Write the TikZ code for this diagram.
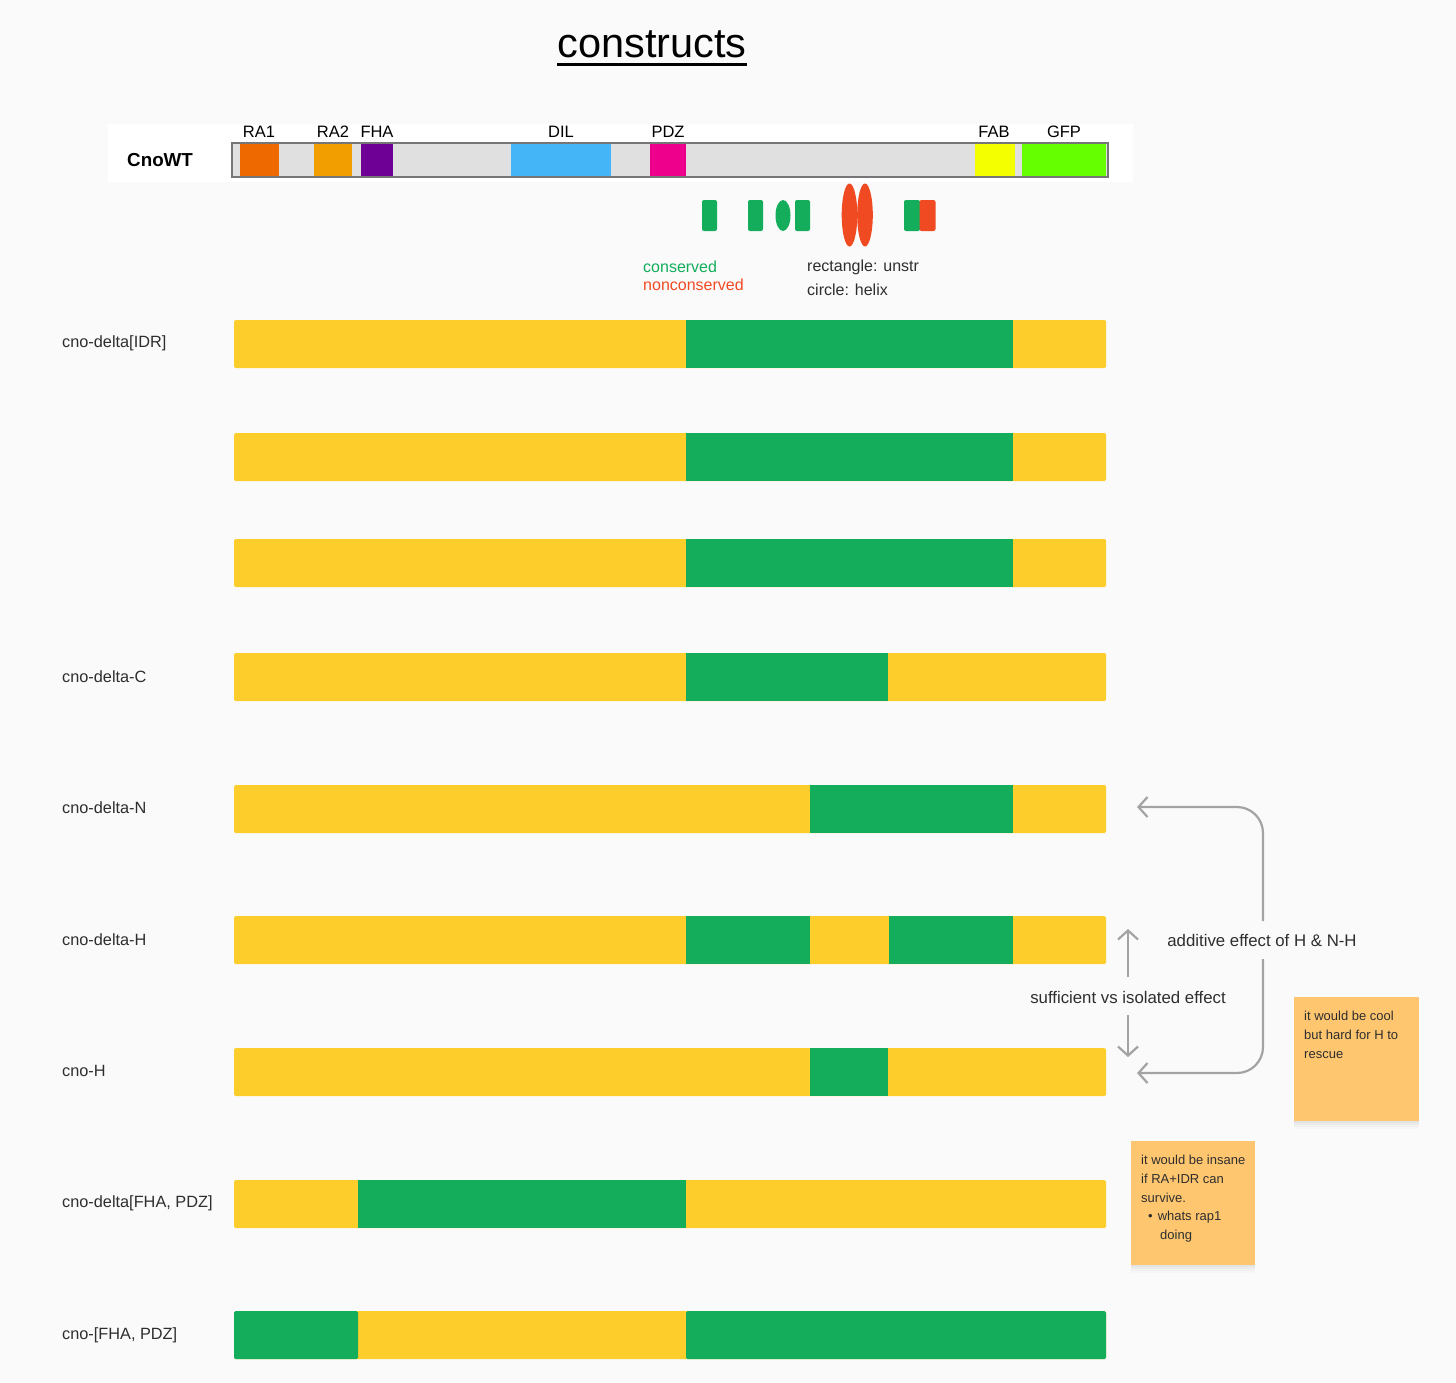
\documentclass[tikz,border=0pt]{standalone}
\usepackage{fontspec}
\setmainfont{Liberation Sans}
\usetikzlibrary{arrows.meta}
\definecolor{bgc}{HTML}{FAFAFA}
\definecolor{ybar}{HTML}{FDCD2B}
\definecolor{gbar}{HTML}{13AD5B}
\definecolor{rdc}{HTML}{F04A23}
\definecolor{notec}{HTML}{FFC670}
\definecolor{arrc}{HTML}{A3A3A3}
\definecolor{txt}{HTML}{2E2E2E}
\definecolor{wtgray}{HTML}{E0E0E0}
\definecolor{wtborder}{HTML}{767676}
\definecolor{cRAone}{HTML}{EE6A00}
\definecolor{cRAtwo}{HTML}{F29D00}
\definecolor{cFHA}{HTML}{6E0096}
\definecolor{cDIL}{HTML}{44B6F8}
\definecolor{cPDZ}{HTML}{EE008C}
\definecolor{cFAB}{HTML}{F4FF00}
\definecolor{cGFP}{HTML}{66FF00}
\tikzset{
  fsz/.style={font=\fontsize{#1}{#1}\selectfont},
  rowlbl/.style={anchor=west, inner sep=0, text=txt, fsz=16.3},
  domlbl/.style={anchor=center, inner sep=0, text=black, fsz=16.5},
  ybarbox/.style={fill=ybar, rounded corners=1.5pt, draw=none, inner sep=0, outer sep=0,
                  minimum width=872pt, minimum height=48pt, anchor=north west},
  gseg/.style={fill=gbar},
  conn/.style={draw=arrc, line width=2.2pt, -{Straight Barb[length=9pt,width=20pt]}},
  notebox/.style={fill=notec, draw=none, inner sep=0, minimum width=125pt, minimum height=124pt, anchor=north west},
  notetxt/.style={anchor=north west, inner sep=0, align=left, text=txt, font=\fontsize{13}{18.7}\selectfont},
  annot/.style={inner sep=0, text=txt, fsz=16.8},
  legtxt/.style={anchor=west, inner sep=0, fsz=16},
}
\begin{document}
\begin{tikzpicture}[x=1pt,y=-1pt]
\useasboundingbox (0,0) rectangle (1456,1382);
\fill[bgc] (0,0) rectangle (1456,1382);

% title
\node[anchor=base, inner sep=0, fsz=41.5, text=black] (title) at (652,57) {constructs};
\draw[line width=2.4pt] ([yshift=-7pt]title.south west) -- ([yshift=-7pt]title.south east);

% CnoWT
\fill[white] (108,124) rectangle (1133,182);
\node[anchor=west, inner sep=0, font=\bfseries\fontsize{18.8}{18.8}\selectfont] (cnowt) at (127,160) {CnoWT};
\fill[wtgray] (232,143) rectangle (1108,177);
\fill[cRAone] (240,144) rectangle (279,176);
\fill[cRAtwo] (314,144) rectangle (352,176);
\fill[cFHA] (361,144) rectangle (393,176);
\fill[cDIL] (511,144) rectangle (611,176);
\fill[cPDZ] (650,144) rectangle (686,176);
\fill[cFAB] (975,144) rectangle (1015,176);
\fill[cGFP] (1022,144) rectangle (1106,176);
\draw[wtborder, line width=2pt] (232,143) rectangle (1108,177);
\node[domlbl] (lra1) at (259,132) {RA1};
\node[domlbl] (lra2) at (333,132) {RA2};
\node[domlbl] (lfha) at (377,132) {FHA};
\node[domlbl] (ldil) at (561,132) {DIL};
\node[domlbl] (lpdz) at (668,132) {PDZ};
\node[domlbl] (lfab) at (994,132) {FAB};
\node[domlbl] (lgfp) at (1064,132) {GFP};

% legend shapes
\fill[gbar, rounded corners=2pt] (702,200) rectangle (717,231);
\fill[gbar, rounded corners=2pt] (748,200) rectangle (763,231);
\fill[gbar] (783,215.5) ellipse [x radius=7.5pt, y radius=15.5pt];
\fill[gbar, rounded corners=2pt] (795,200) rectangle (810,231);
\fill[rdc] (849.5,215) ellipse [x radius=7.8pt, y radius=31.5pt];
\fill[rdc] (865,215) ellipse [x radius=7.8pt, y radius=31.5pt];
\fill[gbar, rounded corners=2pt] (904,200) rectangle (920,231);
\fill[rdc, rounded corners=2pt] (919.5,200) rectangle (935.5,231);
\node[legtxt, text=gbar] (lcons) at (643,267) {conserved};
\node[legtxt, text=rdc] (lnoncons) at (643,284.5) {nonconserved};
\node[legtxt, text=txt] (lrect) at (807,267) {rectangle: unstr};
\node[legtxt, text=txt] (lcirc) at (807,290) {circle: helix};

% rows
\node[ybarbox] (b1) at (234,320) {};
\fill[gseg] (686,320) rectangle (1013,368);
\node[rowlbl] (l1) at (62,343) {cno-delta[IDR]};

\node[ybarbox] (b2) at (234,433) {};
\fill[gseg] (686,433) rectangle (1013,481);

\node[ybarbox] (b3) at (234,539) {};
\fill[gseg] (686,539) rectangle (1013,587);

\node[ybarbox] (b4) at (234,653) {};
\fill[gseg] (686,653) rectangle (888,701);
\node[rowlbl] (l4) at (62,677) {cno-delta-C};

\node[ybarbox] (b5) at (234,785) {};
\fill[gseg] (810,785) rectangle (1013,833);
\node[rowlbl] (l5) at (62,808) {cno-delta-N};

\node[ybarbox] (b6) at (234,916) {};
\fill[gseg] (686,916) rectangle (810,964);
\fill[gseg] (889,916) rectangle (1013,964);
\node[rowlbl] (l6) at (62,940) {cno-delta-H};

\node[ybarbox] (b7) at (234,1048) {};
\fill[gseg] (810,1048) rectangle (888,1096);
\node[rowlbl] (l7) at (62,1071) {cno-H};

\node[ybarbox] (b8) at (234,1180) {};
\fill[gseg] (358,1180) rectangle (686,1228);
\node[rowlbl] (l8) at (62,1203) {cno-delta[FHA, PDZ]};

\node[ybarbox] (b9) at (234,1311) {};
\fill[gseg, rounded corners=1.5pt] (234,1311) rectangle (358,1359);
\fill[gseg, rounded corners=1.5pt] (686,1311) rectangle (1106,1359);
\node[rowlbl] (l9) at (62,1335) {cno-[FHA, PDZ]};

% annotations
\node[annot] (addtxt) at (1262,940) {additive effect of H \& N-H};
\coordinate (topstart) at (1263,921);
\coordinate (toptip) at (1137,807);
\coordinate (botstart) at (1263,959);
\coordinate (bottip) at (1137,1073);
\draw[conn, rounded corners=26pt] (topstart) |- (toptip);
\draw[conn, rounded corners=26pt] (botstart) |- (bottip);

\node[annot] (suftxt) at (1128,997) {sufficient vs isolated effect};
\coordinate (upstart) at (1128,977);
\coordinate (uptip) at (1128,929);
\coordinate (downstart) at (1128,1015);
\coordinate (downtip) at (1128,1057);
\draw[conn] (upstart) -- (uptip);
\draw[conn] (downstart) -- (downtip);

% sticky notes with soft shadow
\foreach \d/\o in {8/0.015,6/0.02,4/0.025,2/0.03}{
  \fill[black, opacity=\o] (1294,997+\d) rectangle (1419,1121+\d);
  \fill[black, opacity=\o] (1131,1141+\d) rectangle (1255,1265+\d);
}
\node[notebox] (note1) at (1294,997) {};
\node[notetxt] (note1t) at (1304,1011) {it would be cool\\but hard for H to\\rescue};
\node[notebox, minimum width=124pt] (note2) at (1131,1141) {};
\node[notetxt] (note2t) at (1141,1155) {it would be insane\\if RA+IDR can\\survive.\\\hspace*{7pt}•\hspace*{5pt}whats rap1\\\hspace*{19pt}doing};
\end{tikzpicture}
\end{document}
